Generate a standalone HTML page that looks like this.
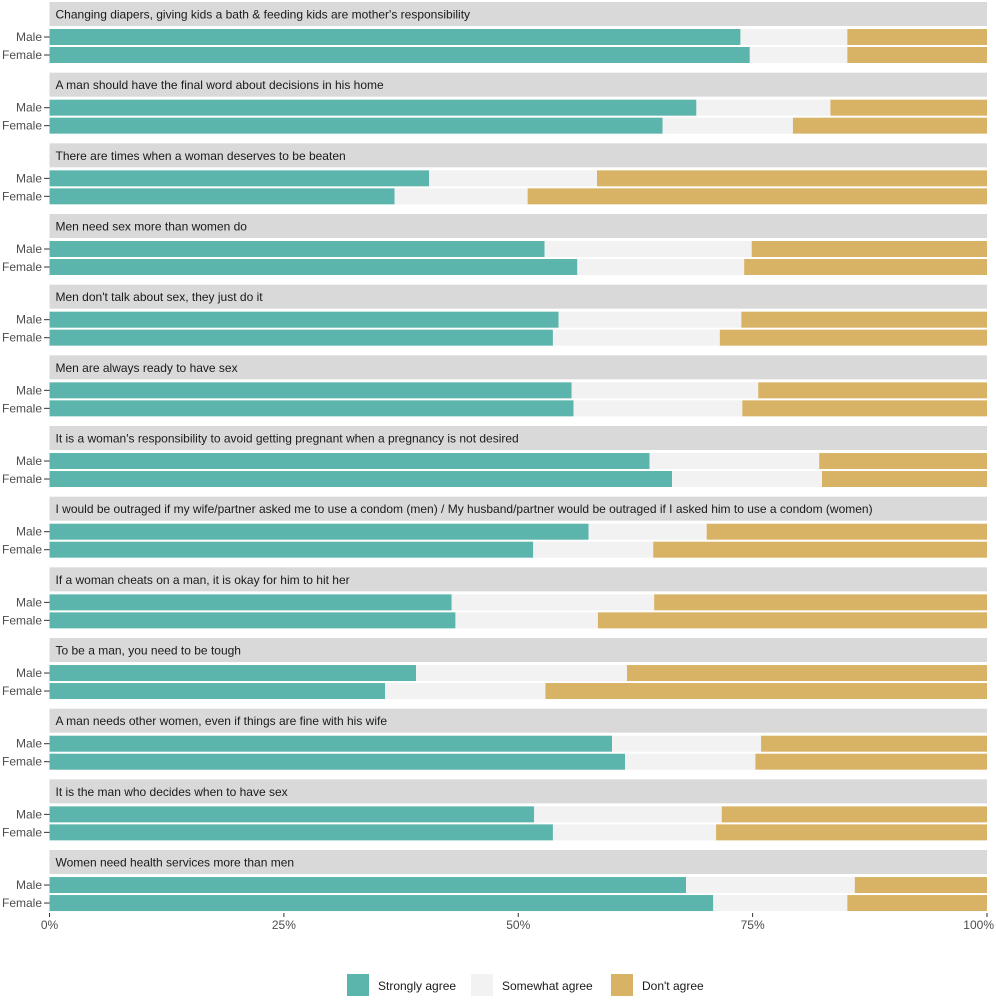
<!DOCTYPE html>
<html><head><meta charset="utf-8"><style>
body{margin:0;background:#fff;font-family:"Liberation Sans",sans-serif}
</style></head><body>
<svg id="c" width="996" height="1000" xmlns="http://www.w3.org/2000/svg"></svg>
<script>
const questions=["Changing diapers, giving kids a bath & feeding kids are mother's responsibility","A man should have the final word about decisions in his home","There are times when a woman deserves to be beaten","Men need sex more than women do","Men don't talk about sex, they just do it","Men are always ready to have sex","It is a woman's responsibility to avoid getting pregnant when a pregnancy is not desired","I would be outraged if my wife/partner asked me to use a condom (men) / My husband/partner would be outraged if I asked him to use a condom (women)","If a woman cheats on a man, it is okay for him to hit her","To be a man, you need to be tough","A man needs other women, even if things are fine with his wife","It is the man who decides when to have sex","Women need health services more than men"];
const maleStrong=[73.7,69.0,40.5,52.8,54.3,55.7,64.0,57.5,42.9,39.1,60.0,51.7,67.9];
const maleSomewhat=[11.4,14.3,17.9,22.1,19.5,19.9,18.1,12.6,21.6,22.5,15.9,20.0,18.0];
const femaleStrong=[74.7,65.4,36.8,56.3,53.7,55.9,66.4,51.6,43.3,35.8,61.4,53.7,70.8];
const femaleSomewhat=[10.4,13.9,14.2,17.8,17.8,18.0,16.0,12.8,15.2,17.1,13.9,17.4,14.3];
const ticks=[0,25,50,75,100];
const tickLabels=["0%","25%","50%","75%","100%"];
const colors=["#5bb5ac","#f2f2f2","#d9b365"];
const legendLabels=["Strongly agree","Somewhat agree","Don't agree"];
const svg=document.getElementById('c');const NS="http://www.w3.org/2000/svg";
const x0=49.5,x1=987;const X=v=>x0+(x1-x0)*v/100;
function el(t,a,txt){const e=document.createElementNS(NS,t);for(const k in a)e.setAttribute(k,a[k]);if(txt!==undefined)e.textContent=txt;svg.appendChild(e);return e;}
const step=70.67;
questions.forEach((q,i)=>{
 const top=2+i*step;
 let s=el('rect',{x:x0,y:top,width:x1-x0,height:24,fill:'#d9d9d9'});
 
 
 let t=el('text',{x:x0+6,y:top+16.5,'font-size':12,fill:'#1a1a1a'},q);
 
 
 [["Male",maleStrong[i],maleSomewhat[i],top+27],["Female",femaleStrong[i],femaleSomewhat[i],top+45]].forEach(([g,a,b,y])=>{
  const segs=[[0,a],[a,a+b],[a+b,100]];
  segs.forEach((sg,j)=>{
   const r=el('rect',{x:X(sg[0]),y:y,width:X(sg[1])-X(sg[0]),height:16,fill:colors[j]});
   
   
  });
  const l=el('text',{x:42,y:y+12,'font-size':12,fill:'#4d4d4d','text-anchor':'end'},g);
  
  
  el('line',{x1:44,x2:x0,y1:y+8,y2:y+8,stroke:'#333','stroke-width':1});
 });
});
ticks.forEach((v,i)=>{
 el('line',{x1:X(v),x2:X(v),y1:913,y2:917,stroke:'#333','stroke-width':1});
 const last=i===ticks.length-1;
 const t=el('text',{x:last?994:X(v),y:929,'font-size':12,fill:'#4d4d4d','text-anchor':last?'end':'middle'},tickLabels[i]);
 
 
});
const lx=[347,471,611];
legendLabels.forEach((lab,i)=>{
 const r=el('rect',{x:lx[i],y:974,width:22,height:22,fill:colors[i]});
 
 
 const t=el('text',{x:lx[i]+31,y:990,'font-size':12,fill:'#1a1a1a'},lab);
 
 
});
</script>
</body></html>
